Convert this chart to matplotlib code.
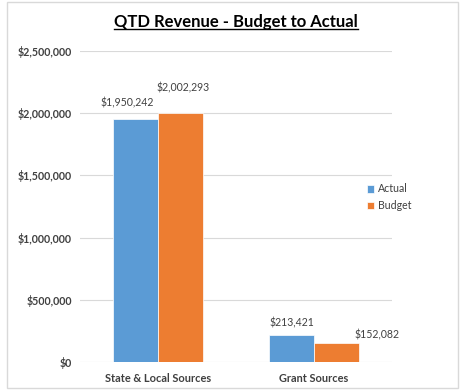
import numpy as np
import matplotlib
matplotlib.use("Agg")
import matplotlib.pyplot as plt
from matplotlib.patches import Rectangle
from matplotlib.lines import Line2D

plt.rcParams['font.family'] = ['Lato', 'DejaVu Sans']

categories = ['State & Local Sources', 'Grant Sources']
actual = [1950242, 213421]
budget = [2002293, 152082]
series_names = ['Actual', 'Budget']
yticks = [0, 500000, 1000000, 1500000, 2000000, 2500000]

blue = '#5B9BD5'
orange = '#ED7D31'
text_col = '#404040'

fig = plt.figure(figsize=(4.61, 3.90), dpi=100)
# chart border
fig.patches.append(Rectangle((7 / 461, 2 / 390), 451 / 461, 386 / 390,
                             transform=fig.transFigure, fill=False,
                             edgecolor='#D9D9D9', linewidth=1))

ax = fig.add_axes([80 / 461, 28 / 390, 312 / 461, 311 / 390])

x = np.arange(len(categories))
w = 0.288
b1 = ax.bar(x - w / 2, actual, w, color=blue, edgecolor='white', linewidth=0.5,
            label=series_names[0], zorder=3)
b2 = ax.bar(x + w / 2, budget, w, color=orange, edgecolor='white', linewidth=0.5,
            label=series_names[1], zorder=3)

ax.set_xlim(-0.5, 1.5)
ax.set_ylim(0, 2500000)
ax.set_yticks(yticks)
ax.set_yticklabels(['${:,.0f}'.format(v) for v in yticks], fontsize=7.7,
                   fontweight='bold', color=text_col)
ax.set_xticks(x)
ax.set_xticklabels(categories, fontsize=7.9, fontweight='bold', color=text_col)
ax.tick_params(length=0, pad=6)
ax.tick_params(axis='x', pad=8)
ax.grid(axis='y', color='#D9D9D9', linewidth=0.8, zorder=0)
for s in ax.spines.values():
    s.set_visible(False)

# data labels (offsets in points)
offsets = [[(-6, 8), (2, 14)], [(0, 5), (29, 2)]]
for i in range(len(categories)):
    for j, (bars, vals) in enumerate([(b1, actual), (b2, budget)]):
        r = bars[i]
        dx, dy = offsets[i][j]
        ax.annotate('${:,.0f}'.format(vals[i]),
                    (r.get_x() + r.get_width() / 2, r.get_height()),
                    xytext=(dx, dy), textcoords='offset points',
                    ha='center', va='bottom', fontsize=7.6, color=text_col)

fig.legend(loc='upper left', bbox_to_anchor=(357 / 461, 1 - 174 / 390),
           frameon=False, fontsize=7.6, handlelength=0.7, handleheight=0.7,
           labelspacing=0.55, handletextpad=0.4, labelcolor=text_col)

title = fig.text(236 / 461, 1 - 22 / 390, 'QTD Revenue - Budget to Actual',
                 ha='center', va='center', fontsize=12, fontweight='bold',
                 color='black')
fig.canvas.draw()
bb = title.get_window_extent().transformed(fig.transFigure.inverted())
fig.lines.append(Line2D([bb.x0, bb.x1], [bb.y0 + 0.003, bb.y0 + 0.003],
                        transform=fig.transFigure, color='black', linewidth=1))

fig.savefig('out.png', dpi=100)
